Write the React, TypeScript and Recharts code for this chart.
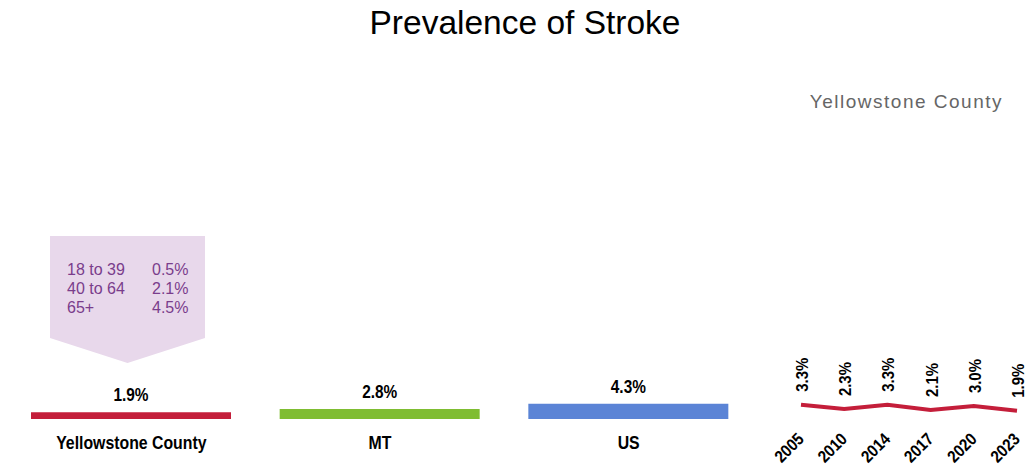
import { Bar, BarChart, Cell, LabelList, Line, LineChart, XAxis, YAxis } from "recharts";

const regions = ["Yellowstone County", "MT", "US"];
const regionValues = [1.9, 2.8, 4.3];
const regionColors = ["#c41e3a", "#7fbd32", "#5b84d6"];

const years = ["2005", "2010", "2014", "2017", "2020", "2023"];
const trendValues = [3.3, 2.3, 3.3, 2.1, 3.0, 1.9];

const ageGroups = ["18 to 39", "40 to 64", "65+"];
const ageValues = ["0.5%", "2.1%", "4.5%"];

const barData = regions.map((name, i) => ({ name, value: regionValues[i] }));
const trendData = years.map((year, i) => ({ year, value: trendValues[i] }));

const sans = "'Liberation Sans', Arial, sans-serif";
// no narrow face installed, so squeeze the bold one
const squeeze = 0.88;

export default function App() {
  return (
    <div
      style={{
        position: "fixed",
        left: 0,
        top: 0,
        width: 1031,
        height: 467,
        background: "#fff",
        fontFamily: sans,
      }}
    >
      <svg width={1031} height={467} style={{ position: "absolute", left: 0, top: 0 }}>
        <text x={525} y={34} textAnchor="middle" fontSize={33.5} fill="#000" fontFamily={sans}>
          Prevalence of Stroke
        </text>
        <text
          x={1003}
          y={108}
          textAnchor="end"
          fontSize={19}
          letterSpacing={1.5}
          fill="#666"
          fontFamily={sans}
        >
          Yellowstone County
        </text>
        <polygon points="50,236 205,236 205,338 127.5,363 50,338" fill="#e8d8eb" />
        {ageGroups.map((g, i) => (
          <g key={g} fontSize={16} fill="#7a3d8c" fontFamily={sans}>
            <text x={67} y={275 + i * 19}>
              {g}
            </text>
            <text x={152} y={275 + i * 19}>
              {ageValues[i]}
            </text>
          </g>
        ))}
      </svg>

      <div style={{ position: "absolute", left: 0, top: 0 }}>
        <BarChart
          width={760}
          height={467}
          data={barData}
          margin={{ top: 64, right: 7, bottom: 18, left: 7 }}
        >
          <XAxis
            dataKey="name"
            axisLine={false}
            tickLine={false}
            tickMargin={11}
            interval={0}
            tick={<RegionTick />}
          />
          <YAxis hide domain={[0, 100]} />
          <Bar dataKey="value" barSize={200} isAnimationActive={false}>
            {barData.map((d, i) => (
              <Cell key={d.name} fill={regionColors[i]} />
            ))}
            <LabelList dataKey="value" content={<BarValue />} />
          </Bar>
        </BarChart>
      </div>

      <div style={{ position: "absolute", left: 760, top: 0 }}>
        <LineChart
          width={271}
          height={467}
          data={trendData}
          margin={{ top: 376, right: 14, bottom: 0, left: 41 }}
        >
          <XAxis
            dataKey="year"
            axisLine={false}
            tickLine={false}
            height={48}
            interval={0}
            tick={<YearTick />}
          />
          <YAxis hide domain={[0, 10]} />
          <Line
            dataKey="value"
            stroke="#c41e3a"
            strokeWidth={4}
            dot={false}
            isAnimationActive={false}
          >
            <LabelList dataKey="value" content={<TrendLabel />} />
          </Line>
        </LineChart>
      </div>
    </div>
  );
}

function NarrowText({
  x,
  y,
  angle = 0,
  anchor,
  size,
  children,
}: {
  x: number;
  y: number;
  angle?: number;
  anchor: "start" | "middle" | "end";
  size: number;
  children: string;
}) {
  return (
    <text
      x={0}
      y={0}
      textAnchor={anchor}
      transform={`translate(${x}, ${y}) rotate(${angle}) scale(${squeeze}, 1)`}
      fontSize={size}
      fontWeight={700}
      fontFamily={sans}
      fill="#000"
    >
      {children}
    </text>
  );
}

function RegionTick(props: any) {
  const { x, y, payload } = props;
  return (
    <NarrowText x={x} y={y + 13} anchor="middle" size={18}>
      {payload.value}
    </NarrowText>
  );
}

function BarValue(props: any) {
  const { x, y, width, value } = props;
  return (
    <NarrowText x={x + width / 2} y={y - 11} anchor="middle" size={17.5}>
      {`${Number(value).toFixed(1)}%`}
    </NarrowText>
  );
}

function YearTick(props: any) {
  const { x, y, payload } = props;
  return (
    <NarrowText x={x + 4} y={y + 13} angle={-45} anchor="end" size={17}>
      {payload.value}
    </NarrowText>
  );
}

function TrendLabel(props: any) {
  const { x, y, value } = props;
  return (
    <NarrowText x={x + 7} y={y - 13} angle={-90} anchor="start" size={17}>
      {`${Number(value).toFixed(1)}%`}
    </NarrowText>
  );
}
